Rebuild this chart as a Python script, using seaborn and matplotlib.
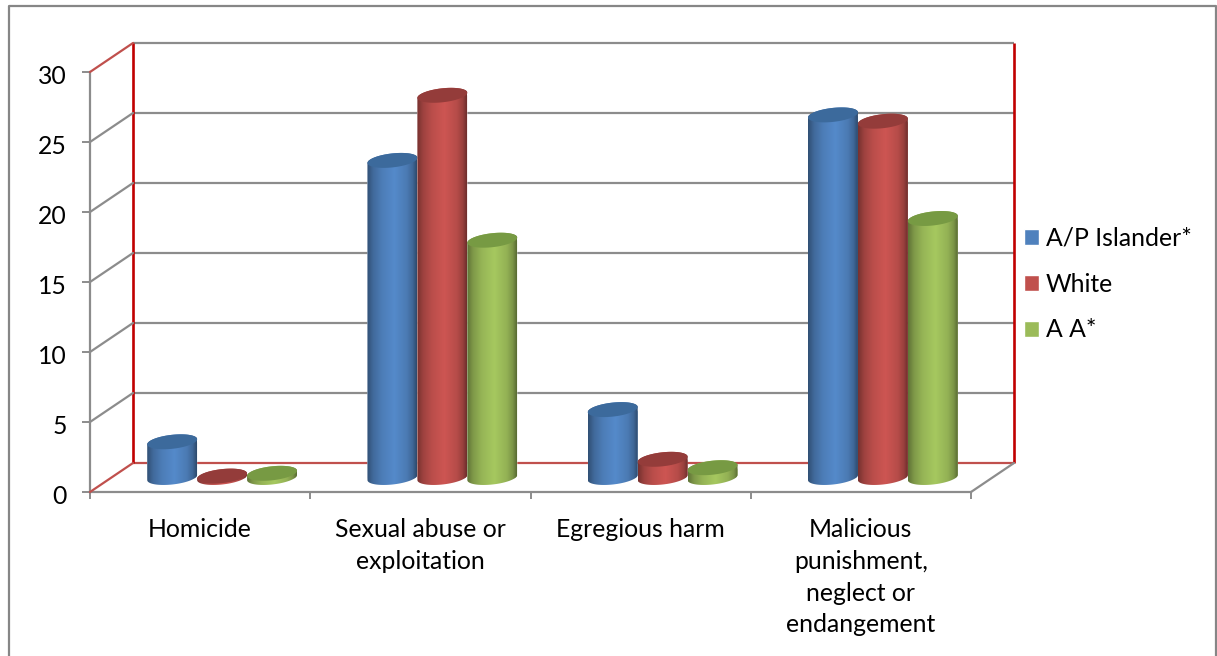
import numpy as np
import pandas as pd
import matplotlib
matplotlib.use('Agg')
import matplotlib.pyplot as plt
from matplotlib.path import Path
from matplotlib.patches import PathPatch
from matplotlib.transforms import Affine2D
from matplotlib.colors import to_rgb
import seaborn as sns

categories = ['Homicide', 'Sexual abuse or\nexploitation', 'Egregious harm',
              'Malicious\npunishment,\nneglect or\nendangement']
groups = ['A/P Islander*', 'White', 'A A*']
ap_islander = [2.55, 22.65, 4.85, 25.9]
white = [0.1, 27.3, 1.3, 25.45]
aa = [0.3, 16.95, 0.7, 18.5]
y_ticks = [0, 5, 10, 15, 20, 25, 30]

body_colors = ['#4f81bd', '#c0504d', '#9bbb59']
top_colors = ['#3c6a9c', '#943c3a', '#779a43']
GRAY = '#8c8c8c'
RED = '#c00000'
DULL_RED = '#c0504d'
FONT_SIZE = 17.8

W, H = 1217, 656
DEPTH_X, DEPTH_Y = 43, 29   # back wall offset, pixels

sns.set_style('white')
plt.rcParams['font.family'] = ['Lato', 'DejaVu Sans']
plt.rcParams['font.size'] = FONT_SIZE

df = pd.DataFrame({
    'category': categories * 3,
    'group': np.repeat(groups, 4),
    'value': ap_islander + white + aa,
})

fig = plt.figure(figsize=(W / 100, H / 100), dpi=100, facecolor='white')
ax = fig.add_axes([90 / W, 1 - 492 / H, 881 / W, 420 / H], facecolor='none')

sns.barplot(data=df, x='category', y='value', hue='group', palette=body_colors,
            width=0.68, gap=0, saturation=1, errorbar=None, ax=ax)
ax.set_xlim(-0.5, 3.5)
ax.set_ylim(0, 30)
ax.set_xlabel('')
ax.set_ylabel('')
ax.set_yticks(y_ticks)
ax.tick_params(axis='y', length=5.8, width=1.4, color=GRAY, pad=11, left=True,
               labelsize=FONT_SIZE, labelcolor='black')
ax.set_xticks(np.arange(-0.5, 4), minor=True)
ax.tick_params(axis='x', which='minor', length=5, width=1.4, color=GRAY, bottom=True)
ax.tick_params(axis='x', which='major', length=0, pad=18.5, labelsize=FONT_SIZE, labelcolor='black')
for t in ax.get_xticklabels():
    t.set_linespacing(1.47)
    t.set_verticalalignment('top')
# digits sit a little lower in the reference
for t in ax.get_yticklabels():
    t.set_transform(t.get_transform() + Affine2D().translate(0, -2))
for side in ['top', 'right']:
    ax.spines[side].set_visible(False)
for side in ['left', 'bottom']:
    ax.spines[side].set_color(GRAY)
    ax.spines[side].set_linewidth(1.6)

# back wall: same data scale, moved back by the depth of the box
back = ax.transData + Affine2D().translate(DEPTH_X, DEPTH_Y)
ax.hlines(y_ticks[1:], -0.5, 3.5, color=GRAY, lw=1.6, transform=back, clip_on=False, zorder=0)
ax.hlines(0, -0.5, 3.5, color=DULL_RED, lw=1.6, transform=back, clip_on=False, zorder=0)
ax.vlines([-0.5, 3.5], 0, 30, color=RED, lw=1.9, transform=back, clip_on=False, zorder=0.5)

leg = ax.legend(loc='upper left', bbox_to_anchor=(1024 / W, 1 - 227 / H), bbox_transform=fig.transFigure,
                frameon=False, fontsize=FONT_SIZE, handlelength=0.61, handleheight=0.61,
                handletextpad=0.27, labelspacing=0.92, borderpad=0, borderaxespad=0)
for text in leg.get_texts():
    text.set_color('black')

# overlay in image pixels for the box edges and the cylinders
over = fig.add_axes([0, 0, 1, 1], facecolor='none')
over.set_axis_off()


def to_px(x, y):
    px, py = ax.transData.transform((x, y))
    return px, H - py


# side wall and floor diagonals
for v in y_ticks:
    x0, y0 = to_px(-0.5, v)
    over.plot([x0, x0 + DEPTH_X], [y0, y0 - DEPTH_Y], color=DULL_RED if v in (0, 30) else GRAY,
              lw=1.6, solid_capstyle='round')
x0, y0 = to_px(3.5, 0)
over.plot([x0, x0 + DEPTH_X], [y0, y0 - DEPTH_Y], color=GRAY, lw=1.6)

# chart frame
over.plot([9, 9, 1215.5, 1215.5], [H, 5.5, 5.5, H], color='#868686', lw=1.6)

# cylinders built on the bars seaborn drew
shade_pos = [0, 0.12, 0.3, 0.55, 0.8, 0.92, 1]
shade_val = [0.62, 0.82, 0.97, 1.07, 0.95, 0.8, 0.58]
t_low = np.linspace(np.pi, 0, 60)
t_high = np.linspace(0, np.pi, 60)
EB, ES = 7.0, 2.6   # ellipse half height and tilt

bars = sorted(ax.patches, key=lambda b: b.get_x())

shift_x, shift_y = DEPTH_X / 2 + 0.5, DEPTH_Y / 2
for n, bar in enumerate(bars):
    xl, yb = to_px(bar.get_x(), 0)
    xr, yt = to_px(bar.get_x() + bar.get_width(), bar.get_height())
    xl, xr = xl + shift_x, xr + shift_x
    yb, yt = yb - shift_y, yt - shift_y
    cx, a = (xl + xr) / 2, (xr - xl) / 2
    idx = [i for i, c in enumerate(body_colors)
           if np.allclose(to_rgb(c), bar.get_facecolor()[:3], atol=0.01)][0]

    lower = np.c_[cx + a * np.cos(t_low), yb + EB * np.sin(t_low) - ES * np.cos(t_low)]
    upper = np.c_[cx + a * np.cos(t_high), yt - EB * np.sin(t_high) - ES * np.cos(t_high)]
    outline = np.vstack([lower, upper, lower[:1]])
    clip = PathPatch(Path(outline), fc='none', ec='none', transform=over.transData)
    over.add_patch(clip)

    shade = np.interp(np.linspace(0, 1, 80), shade_pos, shade_val)
    img = np.clip(np.outer(shade, to_rgb(body_colors[idx])), 0, 1)[None, :, :]
    y_max = yb + EB + ES + 2
    y_min = yt - EB - ES - 2
    im = over.imshow(img, extent=(xl, xr, y_max, y_min), aspect='auto', zorder=2 + n * 0.01,
                     interpolation='bilinear')
    im.set_clip_path(clip)

    t_all = np.linspace(0, 2 * np.pi, 100)
    top = np.c_[cx + a * np.cos(t_all), yt + EB * np.sin(t_all) - ES * np.cos(t_all)]
    over.fill(top[:, 0], top[:, 1], color=top_colors[idx], lw=0, zorder=2 + n * 0.01 + 0.001)

    # the flat bar itself stays under the cylinder, limited to its outline
    bar.set_transform(ax.transData + Affine2D().translate(shift_x, shift_y))
    bar.set_clip_path(Path(outline), over.transData)

over.set_xlim(0, W)
over.set_ylim(H, 0)

fig.savefig('out.png', dpi=100, facecolor='white')
